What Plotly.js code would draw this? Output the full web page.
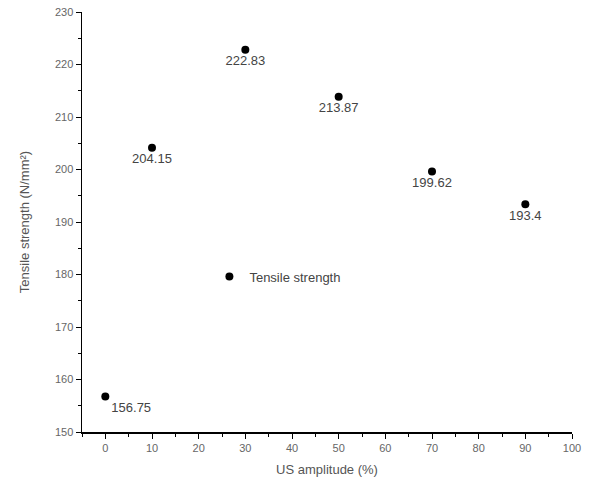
<!DOCTYPE html>
<html>
<head>
<meta charset="utf-8">
<script src="https://cdn.plot.ly/plotly-3.0.1.min.js"></script>
<style>html,body{margin:0;padding:0;background:#fff;}#chart{width:607px;height:498px;}</style>
</head>
<body>
<div id="chart"></div>
<script>
const amplitude = [0, 10, 30, 50, 70, 90];
const strength = [156.75, 204.15, 222.83, 213.87, 199.62, 193.4];
const pointLabels = ["156.75", "204.15", "222.83", "213.87", "199.62", "193.4"];
const labelPositions = ["bottom right", "bottom center", "bottom center", "bottom center", "bottom center", "bottom center"];
const seriesName = "Tensile strength";

const trace = {
  x: amplitude,
  y: strength,
  mode: "markers+text",
  type: "scatter",
  name: seriesName,
  text: pointLabels,
  textposition: labelPositions,
  textfont: {family: "Liberation Sans, Arial, sans-serif", size: 13, color: "#444"},
  marker: {color: "#000", size: 8, symbol: "circle"},
  cliponaxis: false
};

const axisFont = {family: "Liberation Sans, Arial, sans-serif", size: 11, color: "#666"};

const layout = {
  width: 607,
  height: 498,
  margin: {l: 82, r: 35, t: 12, b: 66},
  paper_bgcolor: "#fff",
  plot_bgcolor: "#fff",
  showlegend: true,
  legend: {
    x: 0.26, y: 0.37, xanchor: "left", yanchor: "middle",
    bgcolor: "rgba(0,0,0,0)",
    font: {family: "Liberation Sans, Arial, sans-serif", size: 13, color: "#444"}
  },
  xaxis: {
    range: [-5, 100],
    tickvals: [0, 10, 20, 30, 40, 50, 60, 70, 80, 90, 100],
    ticks: "outside", ticklen: 5, tickcolor: "#000",
    minor: {dtick: 5, ticks: "outside", ticklen: 3, tickcolor: "#000"},
    showline: true, linecolor: "#000", linewidth: 1.5,
    showgrid: false, zeroline: false,
    tickfont: axisFont,
    title: {text: "US amplitude (%)", font: {family: "Liberation Sans, Arial, sans-serif", size: 13, color: "#555"}, standoff: 12}
  },
  yaxis: {
    range: [150, 230],
    tickvals: [150, 160, 170, 180, 190, 200, 210, 220, 230],
    ticks: "outside", ticklen: 5, tickcolor: "#000",
    minor: {dtick: 5, ticks: "outside", ticklen: 3, tickcolor: "#000"},
    showline: true, linecolor: "#000", linewidth: 1.5,
    showgrid: false, zeroline: false,
    tickfont: axisFont,
    title: {text: "Tensile strength (N/mm²)", font: {family: "Liberation Sans, Arial, sans-serif", size: 13, color: "#555"}, standoff: 22}
  }
};

Plotly.newPlot("chart", [trace], layout, {displayModeBar: false, staticPlot: true});
</script>
</body>
</html>
